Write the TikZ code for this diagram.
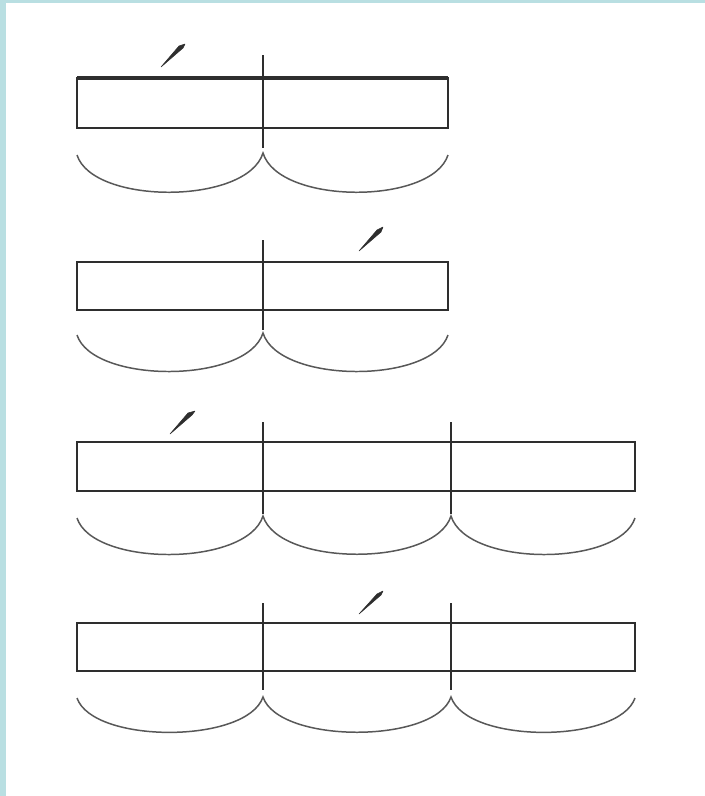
\documentclass[tikz,border=0pt]{standalone}
\definecolor{bandblue}{HTML}{B9DFE2}
\definecolor{ink}{HTML}{2E2E2E}
\tikzset{
  barline/.style={draw=ink, line width=1.05pt},
  topbold/.style={draw=ink, line width=2.1pt},
  divline/.style={draw=ink, line width=1.4pt},
  braceline/.style={draw=ink!80, line width=0.85pt},
  tickmark/.style={fill=ink, draw=ink, line width=0.3pt, line join=round}
}
\begin{document}
\begin{tikzpicture}[x=0.02cm,y=-0.02cm]
\fill[white] (0,0) rectangle (705,796);
\fill[bandblue] (0,0) rectangle (705,3);
\fill[bandblue] (0,0) rectangle (6,796);
\useasboundingbox (0,0) rectangle (705,796);

% ---- diagram 1 ----
\draw[barline] (77,78) rectangle (448,128);
\draw[topbold] (77,78) -- (448,78);
\draw[divline] (263,55) -- (263,148);
\draw[braceline] (77,155) .. controls (93,205) and (247,205) .. (263,153)
                 .. controls (279,205) and (432,205) .. (448,155);
\fill[tickmark] (161,67) -- (179,46) -- (185,44) -- (183,48) -- cycle;

% ---- diagram 2 ----
\draw[barline] (77,262) rectangle (448,310);
\draw[divline] (263,240) -- (263,330);
\draw[braceline] (77,335) .. controls (93,384) and (247,384) .. (263,333)
                 .. controls (279,384) and (432,384) .. (448,335);
\fill[tickmark] (359,251) -- (377,230) -- (383,227) -- (381,232) -- cycle;

% ---- diagram 3 ----
\draw[barline] (77,442) rectangle (635,491);
\draw[divline] (263,422) -- (263,514);
\draw[divline] (451,422) -- (451,514);
\draw[braceline] (77,518) .. controls (93,567) and (247,567) .. (263,516)
                 .. controls (279,567) and (435,567) .. (451,516)
                 .. controls (467,567) and (619,567) .. (635,518);
\fill[tickmark] (170,434) -- (188,413) -- (195,411) -- (192,415) -- cycle;

% ---- diagram 4 ----
\draw[barline] (77,623) rectangle (635,671);
\draw[divline] (263,603) -- (263,690);
\draw[divline] (451,603) -- (451,690);
\draw[braceline] (77,698) .. controls (93,744) and (247,744) .. (263,697)
                 .. controls (279,744) and (435,744) .. (451,697)
                 .. controls (467,744) and (619,744) .. (635,698);
\fill[tickmark] (359,614) -- (377,594) -- (383,591) -- (381,595) -- cycle;
\end{tikzpicture}
\end{document}
